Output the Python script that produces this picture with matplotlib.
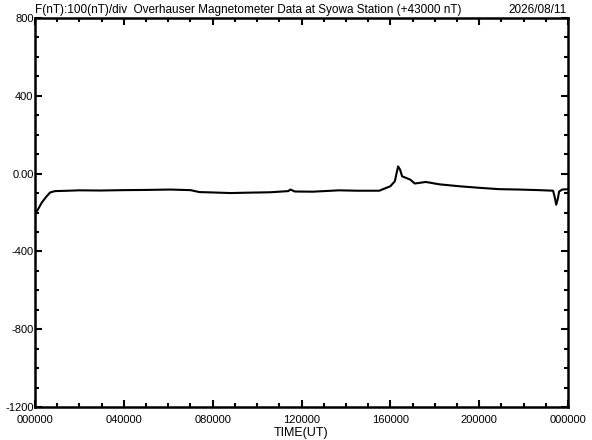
import matplotlib
matplotlib.use("Agg")
import matplotlib.pyplot as plt
from matplotlib.ticker import MultipleLocator

# hours (UT) and F - 43000 nT
hours = [0.0, 0.05, 0.13, 0.3, 0.5, 0.68, 0.9, 1.5, 2.0, 2.93, 4.0, 5.0, 6.08,
         7.0, 7.4, 8.0, 8.8, 9.6, 10.6, 11.4, 11.5, 11.7, 12.5, 13.7, 14.5,
         15.5, 16.0, 16.2, 16.35, 16.44, 16.53, 16.9, 17.1, 17.6, 18.2, 19.1,
         20.0, 20.9, 21.8, 22.7, 23.33, 23.42, 23.47, 23.54, 23.6, 23.74, 24.0]
field = [-190, -198, -185, -150, -120, -97, -90, -88, -86, -87, -85, -84, -82,
         -85, -95, -97, -100, -98, -96, -90, -82, -92, -93, -86, -88,
         -88, -65, -40, 37, 20, -14, -31, -51, -43, -55, -65,
         -73, -80, -82, -85, -88, -130, -160, -130, -92, -82, -80]

xticks = [0, 4, 8, 12, 16, 20, 24]
xlabels = ["000000", "040000", "080000", "120000", "160000", "200000", "000000"]
yticks = [-1200, -800, -400, 0, 400, 800]
ylabels = ["-1200", "-800", "-400", "0.00", "400", "800"]

plt.rcParams['font.family'] = ['Liberation Sans', 'DejaVu Sans']

fig = plt.figure(figsize=(5.92, 4.40), dpi=100)
ax = fig.add_axes([35 / 592, 1 - 407 / 440, 533 / 592, 389 / 440])

ax.plot(hours, field, color='black', linewidth=1.5)

ax.set_xlim(0, 24)
ax.set_ylim(-1200, 800)
ax.set_xticks(xticks)
ax.set_xticklabels(xlabels, fontsize=8)
ax.set_yticks(yticks)
ax.set_yticklabels(ylabels, fontsize=8)
ax.xaxis.set_minor_locator(MultipleLocator(1))
ax.yaxis.set_minor_locator(MultipleLocator(100))
ax.tick_params(which='both', direction='in', top=True, right=True, width=1.5)
ax.tick_params(which='major', length=5)
ax.tick_params(which='minor', length=3)
ax.tick_params(axis='x', pad=6)
ax.tick_params(axis='y', pad=1)
for s in ax.spines.values():
    s.set_linewidth(1.8)

ax.set_xlabel("TIME(UT)", fontsize=9, labelpad=1)
ax.text(0, 1.005, "F(nT):100(nT)/div  Overhauser Magnetometer Data at Syowa Station (+43000 nT)",
        transform=ax.transAxes, ha='left', va='bottom', fontsize=8.5)
ax.text(0.997, 1.005, "2026/08/11", transform=ax.transAxes, ha='right',
        va='bottom', fontsize=8.5)

fig.savefig("out.png", dpi=100)
